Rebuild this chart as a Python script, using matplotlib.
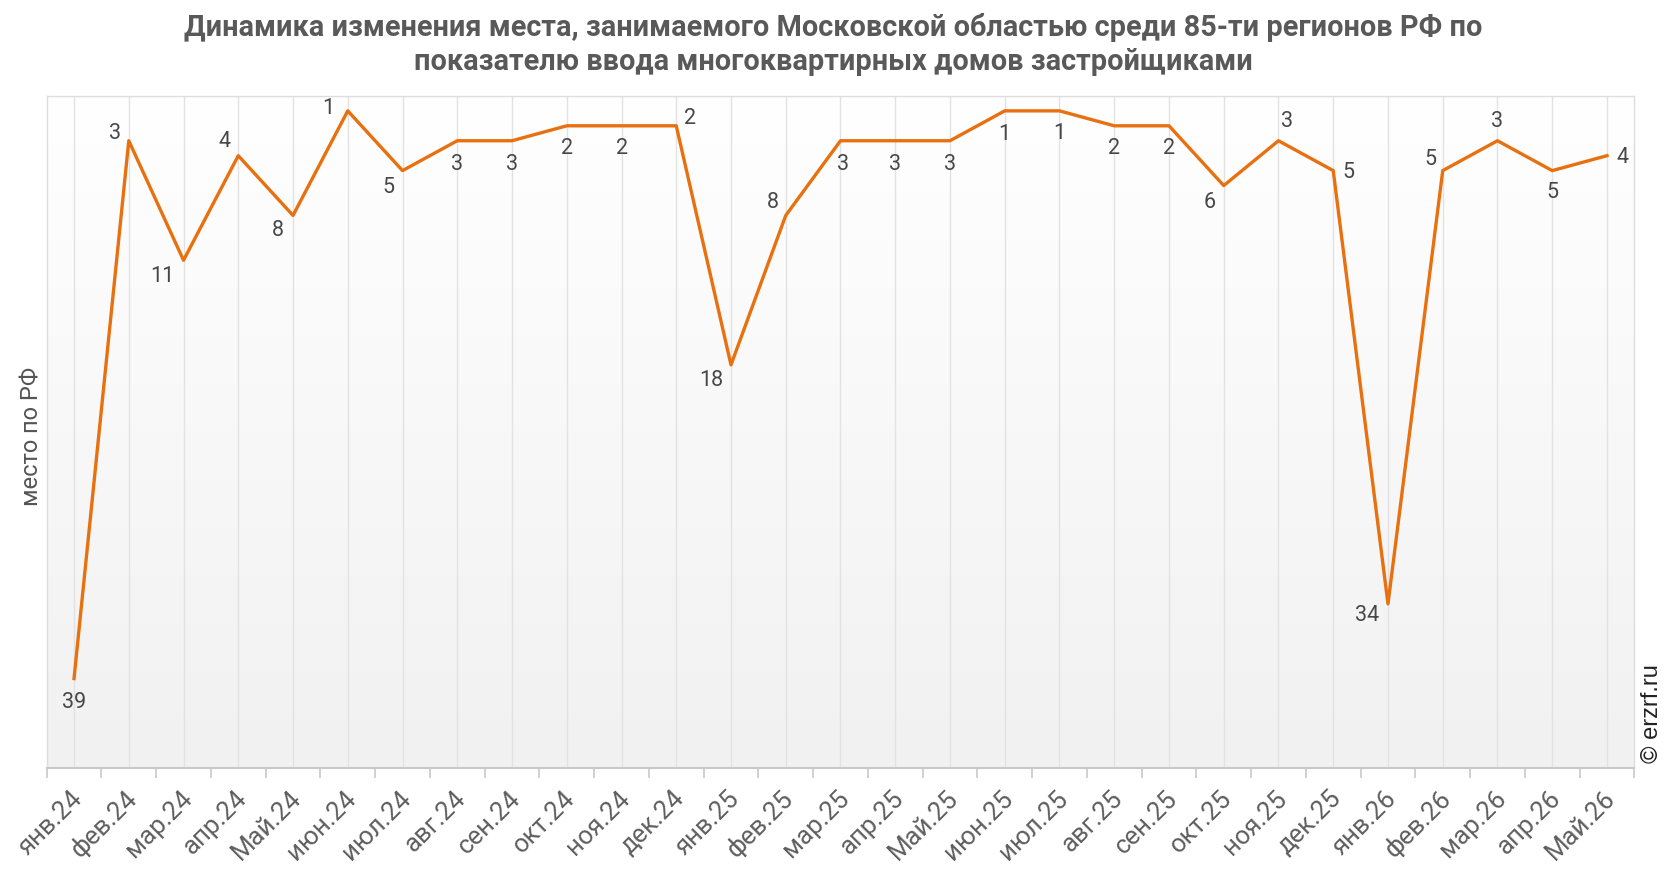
import matplotlib.pyplot as plt
import matplotlib.transforms as mtransforms
from matplotlib.colors import LinearSegmentedColormap
import numpy as np

# данные: место Московской области среди 85 регионов
months = ['янв.24', 'фев.24', 'мар.24', 'апр.24', 'Май.24', 'июн.24', 'июл.24',
          'авг.24', 'сен.24', 'окт.24', 'ноя.24', 'дек.24', 'янв.25', 'фев.25',
          'мар.25', 'апр.25', 'Май.25', 'июн.25', 'июл.25', 'авг.25', 'сен.25',
          'окт.25', 'ноя.25', 'дек.25', 'янв.26', 'фев.26', 'мар.26', 'апр.26',
          'Май.26']
place = [39, 3, 11, 4, 8, 1, 5, 3, 3, 2, 2, 2, 18, 8, 3, 3, 3, 1, 1, 2, 2,
         6, 3, 5, 34, 5, 3, 5, 4]

# смещения подписей (пт) относительно точек
label_offsets = [(0, -17), (-10, 5), (-15, -12), (-10, 10), (-11, -11), (-14, 2),
                 (-10, -12), (0, -17), (0, -17), (0, -16), (0, -16), (10, 5),
                 (-14, -11), (-9, 9), (2, -17), (0, -17), (0, -17), (0, -17),
                 (0, -16), (0, -16), (0, -16), (-10, -12), (6, 14), (11, -1),
                 (-15, -8), (-9, 8), (0, 14), (0, -16), (11, -1)]

plt.rcParams['font.family'] = ['Roboto', 'DejaVu Sans']

fig = plt.figure(figsize=(16.66, 8.72), dpi=100)
ax = fig.add_axes([0.028, 0.119, 0.953, 0.771])

x = np.arange(len(months))

# фон с градиентом
grad = np.linspace(1.0, 0.0, 256).reshape(-1, 1)
ax.imshow(grad, extent=[0, 1, 0, 1], transform=ax.transAxes, aspect='auto',
          cmap=LinearSegmentedColormap.from_list('bg', ['#f1f1f1', '#ffffff']),
          zorder=0)

for xi in x:
    ax.axvline(xi, color='#e2e2e2', lw=1, zorder=1)

ax.plot(x, place, color='#e8700f', lw=2.4, zorder=3)

for xi, v, off in zip(x, place, label_offsets):
    ax.annotate(str(v), (xi, v), xytext=off, textcoords='offset points',
                ha='center', va='center', fontsize=15.5,
                color='#474747', zorder=4)

ax.set_xlim(-0.5, len(months) - 0.5)
ax.set_ylim(45, 0)
ax.set_yticks([])

ax.set_xticks(x)
ax.set_xticklabels(months, rotation=45, ha='right', fontsize=18.5,
                   color='#5e5e5e')
ax.tick_params(axis='x', which='major', length=0, pad=13)
ax.set_xticks(np.arange(-0.5, len(months)), minor=True)
ax.tick_params(axis='x', which='minor', length=7, color='#c8c8c8', width=1.2)
offset = mtransforms.ScaledTranslation(13 / 100, 0, fig.dpi_scale_trans)
for lab in ax.get_xticklabels():
    lab.set_transform(lab.get_transform() + offset)

for side in ['top', 'left', 'right']:
    ax.spines[side].set_color('#dddddd')
    ax.spines[side].set_linewidth(1)
ax.spines['bottom'].set_color('#c8c8c8')
ax.spines['bottom'].set_linewidth(1.5)

fig.text(0.019, 0.5, 'место по РФ', rotation=90, ha='center', va='center',
         fontsize=17, color='#555555')
fig.text(0.9915, 0.182, '© erzrf.ru', rotation=90, ha='center', va='center',
         fontsize=17, family='Liberation Sans', color='#222222')

fig.text(0.5, 0.949, 'Динамика изменения места, занимаемого Московской областью среди 85-ти регионов РФ по\n'
         'показателю ввода многоквартирных домов застройщиками',
         ha='center', va='center', fontsize=20.8, fontweight='bold',
         color='#595959', linespacing=1.25)

fig.savefig('out.png', dpi=100)
